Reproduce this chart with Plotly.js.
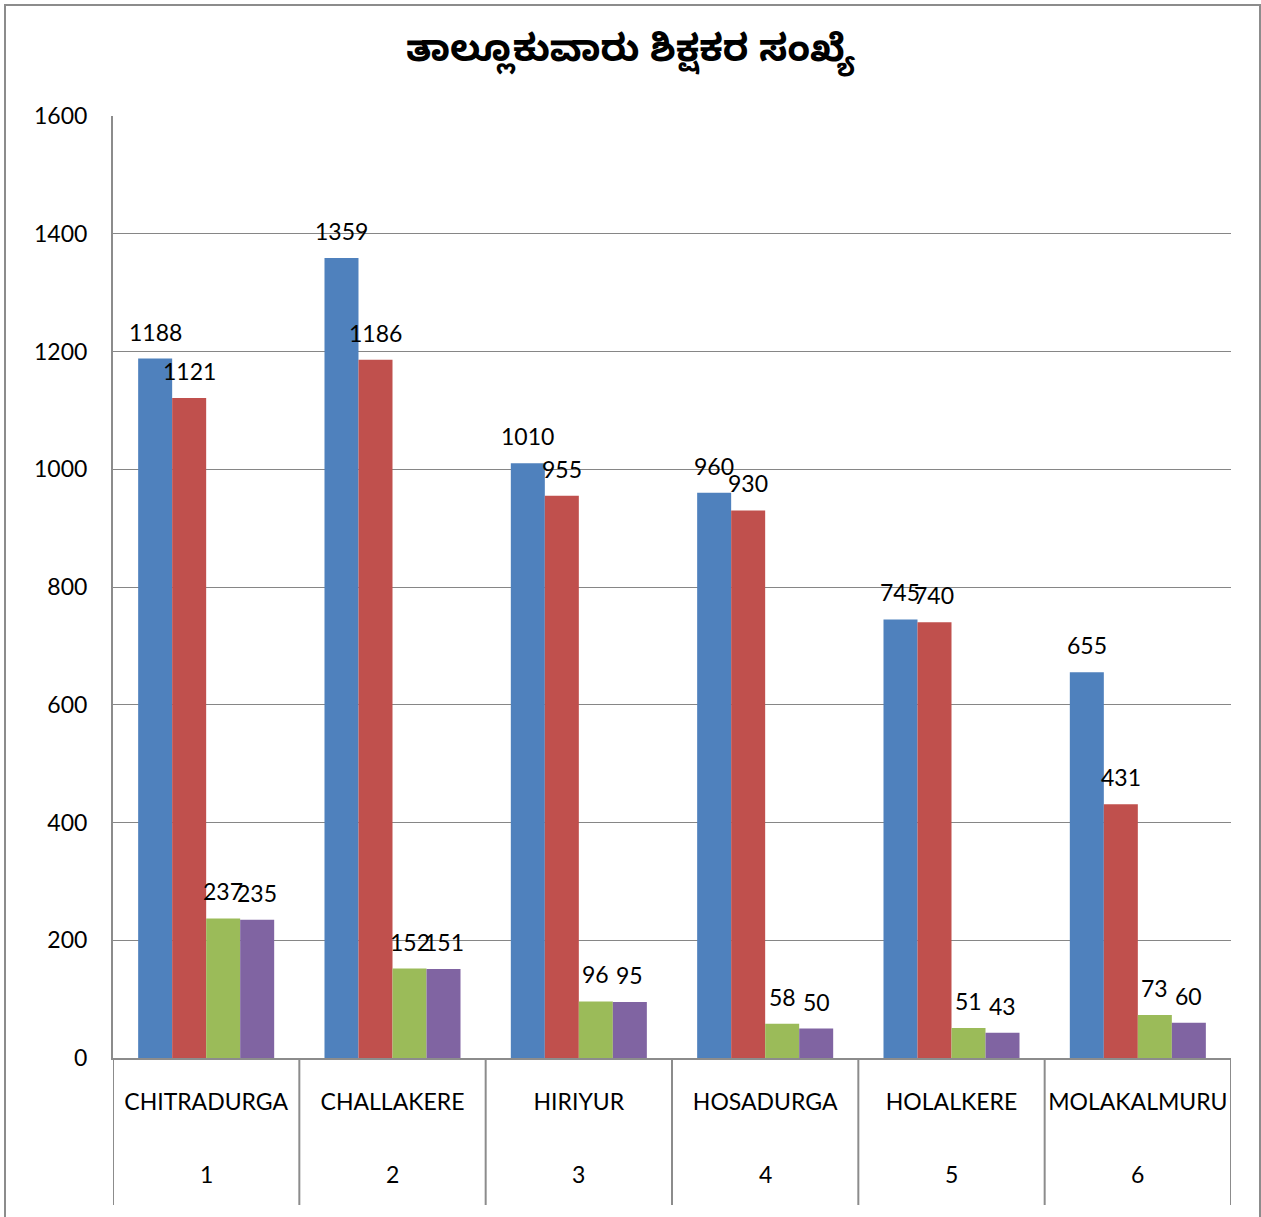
<!DOCTYPE html>
<html>
<head>
<meta charset="utf-8">
<script src="https://cdn.plot.ly/plotly-3.0.1.min.js"></script>
<style>
  html, body { margin: 0; padding: 0; background: #fff; }
  #wrap { position: relative; width: 1261px; height: 1217px; }
  #chart { position: absolute; left: 0; top: 0; width: 1261px; height: 1217px; }
  #frame { position: absolute; left: 4px; top: 4px; width: 1253px; height: 1230px; border: 2px solid #8c8c8c; pointer-events: none; }
</style>
</head>
<body>
<div id="wrap">
  <div id="chart"></div>
  <div id="frame"></div>
</div>
<script>
const titleText = 'ತಾಲ್ಲೂಕುವಾರು ಶಿಕ್ಷಕರ ಸಂಖ್ಯೆ';
const categories = ['CHITRADURGA', 'CHALLAKERE', 'HIRIYUR', 'HOSADURGA', 'HOLALKERE', 'MOLAKALMURU'];
const categoryNumbers = ['1', '2', '3', '4', '5', '6'];
const series1 = [1188, 1359, 1010, 960, 745, 655];
const series2 = [1121, 1186, 955, 930, 740, 431];
const series3 = [237, 152, 96, 58, 51, 73];
const series4 = [235, 151, 95, 50, 43, 60];
const seriesNames = ['Series 1', 'Series 2', 'Series 3', 'Series 4'];
const yTicks = [0, 200, 400, 600, 800, 1000, 1200, 1400, 1600];

const colors = ['#4F81BD', '#C0504D', '#9BBB59', '#8064A2'];
const FONT = 'Lato, Noto Sans, sans-serif';
const allSeries = [series1, series2, series3, series4];

const W = 1261, H = 1217;
const M = { l: 113, r: 30, t: 116, b: 159 };
const plotW = W - M.l - M.r, plotH = H - M.t - M.b;
const BARGAP = 0.27;
const barPx = plotW / categories.length * (1 - BARGAP) / allSeries.length;

const traces = allSeries.map((vals, i) => ({
  type: 'bar',
  name: seriesNames[i],
  x: categories,
  y: vals,
  marker: { color: colors[i], line: { width: 0 } },
  hoverinfo: 'x+y+name'
}));

const annotations = [];
allSeries.forEach((vals, i) => {
  vals.forEach((v, j) => {
    annotations.push({
      x: categories[j], xref: 'x', y: v, yref: 'y',
      xshift: (i - (allSeries.length - 1) / 2) * barPx,
      yshift: 27, text: String(v), showarrow: false,
      xanchor: 'center', yanchor: 'middle',
      font: { family: FONT, size: 23, color: '#000' }
    });
  });
});

const divLen = 147 / plotH;
const shapes = [];
for (let i = 0; i <= categories.length; i++) {
  shapes.push({
    type: 'line', xref: 'x', yref: 'paper',
    x0: i - 0.5, x1: i - 0.5, y0: 0, y1: -divLen,
    line: { color: '#8c8c8c', width: 2 }
  });
}

categoryNumbers.forEach((n, i) => annotations.push({
  x: categories[i], xref: 'x', y: -116 / plotH, yref: 'paper',
  text: n, showarrow: false, yanchor: 'middle', xanchor: 'center',
  font: { family: FONT, size: 23, color: '#000' }
}));

const layout = {
  width: W, height: H,
  paper_bgcolor: '#fff', plot_bgcolor: '#fff',
  margin: { l: M.l, r: M.r, t: M.t, b: M.b, pad: 0 },
  showlegend: false,
  barmode: 'group',
  bargap: BARGAP,
  bargroupgap: 0,
  title: {
    text: '<b>' + titleText + '</b>',
    x: 0.5, xref: 'container', xanchor: 'center',
    y: 1 - 48 / H, yref: 'container', yanchor: 'middle',
    font: { family: 'Noto Sans Kannada, Tunga, Noto Sans, sans-serif', size: 37, color: '#000' }
  },
  xaxis: {
    type: 'category',
    range: [-0.5, categories.length - 0.5],
    showgrid: false, zeroline: false,
    showline: true, linecolor: '#8c8c8c', linewidth: 2,
    ticks: '',
    ticklabelstandoff: 22,
    tickfont: { family: FONT, size: 23, color: '#000' },
    fixedrange: true
  },
  yaxis: {
    range: [0, 1600],
    tickvals: yTicks,
    ticktext: yTicks.map(String),
    showgrid: true, gridcolor: '#868686', gridwidth: 1,
    zeroline: false,
    showline: true, linecolor: '#8c8c8c', linewidth: 2,
    ticks: '',
    ticklabelstandoff: 19,
    tickfont: { family: FONT, size: 23, color: '#000' },
    fixedrange: true
  },
  shapes: shapes,
  annotations: annotations
};

Plotly.newPlot('chart', traces, layout, { displayModeBar: false, staticPlot: true });
</script>
</body>
</html>
